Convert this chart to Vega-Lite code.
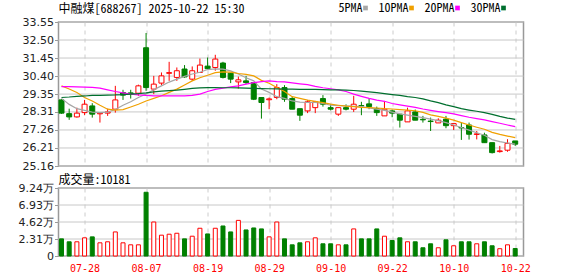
{
"$schema":"https://vega.github.io/schema/vega-lite/v6.json",
"autosize":{"type":"pad"},
"padding":{"left":16.5,"top":2,"right":0,"bottom":0},
"bounds":"flush",
"spacing":22,
"background":"white",
"config":{
 "view":{"stroke":"#999999","strokeWidth":1.5},
 "axis":{"labelFont":"DejaVu Sans","labelFontSize":11,"labelColor":"#222222","gridColor":"#c4c4c4","gridWidth":1,"domain":false,"tickColor":"#999999","tickSize":4,"labelPadding":1,"labelOverlap":false,"title":null}
},
"datasets":{
"pg":[{"t":25.16},{"t":26.21},{"t":27.26},{"t":28.31},{"t":29.35},{"t":30.40},{"t":31.45},{"t":32.50},{"t":33.55}],
"vg":[{"t":0},{"t":23100},{"t":46200},{"t":69300},{"t":92400}],
"k":[
{"d":"07-23","o":29.01,"h":29.05,"l":28.20,"c":28.24,"v":23300,"ma5":29.10,"ma10":29.83,"ma20":29.79,"ma30":29.15,"dir":"down","vdir":"down"},
{"d":"07-24","o":28.21,"h":28.50,"l":27.85,"c":28.02,"v":19300,"ma5":28.75,"ma10":29.65,"ma20":29.78,"ma30":29.18,"dir":"down","vdir":"down"},
{"d":"07-25","o":28.02,"h":28.56,"l":27.98,"c":28.24,"v":19300,"ma5":28.50,"ma10":29.44,"ma20":29.77,"ma30":29.22,"dir":"up","vdir":"up"},
{"d":"07-28","o":28.27,"h":29.01,"l":28.12,"c":28.76,"v":24700,"ma5":28.40,"ma10":29.15,"ma20":29.76,"ma30":29.24,"dir":"up","vdir":"up"},
{"d":"07-29","o":28.66,"h":28.82,"l":27.98,"c":28.18,"v":26000,"ma5":28.30,"ma10":28.95,"ma20":29.74,"ma30":29.27,"dir":"down","vdir":"down"},
{"d":"07-30","o":28.20,"h":28.24,"l":27.69,"c":28.24,"v":17900,"ma5":28.27,"ma10":28.70,"ma20":29.70,"ma30":29.28,"dir":"up","vdir":"up"},
{"d":"07-31","o":28.24,"h":28.50,"l":28.08,"c":28.31,"v":19300,"ma5":28.30,"ma10":28.47,"ma20":29.60,"ma30":29.29,"dir":"up","vdir":"up"},
{"d":"08-01","o":28.47,"h":29.83,"l":28.27,"c":29.01,"v":32700,"ma5":28.45,"ma10":28.42,"ma20":29.50,"ma30":29.30,"dir":"up","vdir":"up"},
{"d":"08-04","o":29.44,"h":29.60,"l":29.01,"c":29.29,"v":17900,"ma5":28.70,"ma10":28.45,"ma20":29.42,"ma30":29.32,"dir":"down","vdir":"up"},
{"d":"08-05","o":29.42,"h":29.60,"l":29.09,"c":29.38,"v":15200,"ma5":28.90,"ma10":28.60,"ma20":29.35,"ma30":29.35,"dir":"down","vdir":"up"},
{"d":"08-06","o":29.40,"h":29.90,"l":29.25,"c":29.83,"v":15200,"ma5":29.15,"ma10":28.76,"ma20":29.30,"ma30":29.38,"dir":"up","vdir":"up"},
{"d":"08-07","o":32.05,"h":32.91,"l":29.54,"c":29.73,"v":86600,"ma5":29.35,"ma10":28.95,"ma20":29.27,"ma30":29.42,"dir":"down","vdir":"down"},
{"d":"08-08","o":29.64,"h":30.41,"l":29.35,"c":29.93,"v":46200,"ma5":29.60,"ma10":29.10,"ma20":29.25,"ma30":29.48,"dir":"up","vdir":"up"},
{"d":"08-11","o":29.99,"h":30.61,"l":29.87,"c":30.41,"v":28300,"ma5":29.83,"ma10":29.25,"ma20":29.25,"ma30":29.52,"dir":"up","vdir":"up"},
{"d":"08-12","o":30.56,"h":31.23,"l":30.12,"c":30.60,"v":29600,"ma5":30.05,"ma10":29.45,"ma20":29.25,"ma30":29.55,"dir":"up","vdir":"up"},
{"d":"08-13","o":30.32,"h":30.90,"l":30.12,"c":30.71,"v":30900,"ma5":30.22,"ma10":29.64,"ma20":29.25,"ma30":29.58,"dir":"up","vdir":"up"},
{"d":"08-14","o":30.81,"h":31.04,"l":30.30,"c":30.35,"v":23300,"ma5":30.38,"ma10":29.88,"ma20":29.25,"ma30":29.63,"dir":"down","vdir":"down"},
{"d":"08-15","o":30.22,"h":30.96,"l":30.12,"c":30.71,"v":26900,"ma5":30.52,"ma10":30.12,"ma20":29.27,"ma30":29.68,"dir":"up","vdir":"up"},
{"d":"08-18","o":30.61,"h":31.42,"l":30.61,"c":31.04,"v":37700,"ma5":30.62,"ma10":30.30,"ma20":29.35,"ma30":29.71,"dir":"up","vdir":"up"},
{"d":"08-19","o":30.98,"h":31.48,"l":30.81,"c":30.83,"v":30000,"ma5":30.78,"ma10":30.45,"ma20":29.50,"ma30":29.73,"dir":"down","vdir":"down"},
{"d":"08-20","o":30.90,"h":31.64,"l":30.71,"c":31.39,"v":37700,"ma5":30.82,"ma10":30.60,"ma20":29.62,"ma30":29.73,"dir":"up","vdir":"up"},
{"d":"08-21","o":31.16,"h":31.23,"l":30.26,"c":30.32,"v":40800,"ma5":30.80,"ma10":30.64,"ma20":29.70,"ma30":29.72,"dir":"down","vdir":"down"},
{"d":"08-22","o":30.57,"h":30.57,"l":29.99,"c":30.22,"v":32700,"ma5":30.70,"ma10":30.63,"ma20":29.77,"ma30":29.72,"dir":"down","vdir":"down"},
{"d":"08-25","o":30.06,"h":30.37,"l":29.67,"c":30.18,"v":48400,"ma5":30.52,"ma10":30.55,"ma20":29.83,"ma30":29.71,"dir":"up","vdir":"up"},
{"d":"08-26","o":30.12,"h":30.41,"l":29.93,"c":30.02,"v":35400,"ma5":30.30,"ma10":30.50,"ma20":29.93,"ma30":29.70,"dir":"down","vdir":"down"},
{"d":"08-27","o":30.02,"h":30.02,"l":29.00,"c":29.05,"v":38100,"ma5":30.12,"ma10":30.41,"ma20":30.02,"ma30":29.68,"dir":"down","vdir":"down"},
{"d":"08-28","o":29.15,"h":29.15,"l":27.92,"c":28.86,"v":36800,"ma5":29.64,"ma10":30.15,"ma20":30.08,"ma30":29.67,"dir":"down","vdir":"down"},
{"d":"08-29","o":29.02,"h":29.15,"l":28.47,"c":29.07,"v":26000,"ma5":29.45,"ma10":29.98,"ma20":30.12,"ma30":29.66,"dir":"up","vdir":"up"},
{"d":"09-01","o":29.15,"h":29.93,"l":29.05,"c":29.73,"v":46200,"ma5":29.20,"ma10":29.73,"ma20":30.08,"ma30":29.65,"dir":"up","vdir":"up"},
{"d":"09-02","o":29.73,"h":29.87,"l":28.90,"c":29.05,"v":23300,"ma5":29.10,"ma10":29.50,"ma20":30.06,"ma30":29.64,"dir":"down","vdir":"down"},
{"d":"09-03","o":29.09,"h":29.20,"l":28.47,"c":28.47,"v":15200,"ma5":28.95,"ma10":29.20,"ma20":30.00,"ma30":29.64,"dir":"down","vdir":"down"},
{"d":"09-04","o":28.50,"h":28.50,"l":27.79,"c":28.12,"v":17900,"ma5":28.88,"ma10":29.10,"ma20":29.95,"ma30":29.63,"dir":"down","vdir":"down"},
{"d":"09-05","o":28.37,"h":29.01,"l":28.24,"c":28.90,"v":19300,"ma5":28.86,"ma10":29.00,"ma20":29.90,"ma30":29.63,"dir":"up","vdir":"up"},
{"d":"09-08","o":28.56,"h":28.95,"l":28.24,"c":28.90,"v":24700,"ma5":28.86,"ma10":28.93,"ma20":29.80,"ma30":29.62,"dir":"up","vdir":"up"},
{"d":"09-09","o":29.09,"h":29.29,"l":28.62,"c":28.76,"v":16600,"ma5":28.80,"ma10":28.85,"ma20":29.72,"ma30":29.61,"dir":"down","vdir":"down"},
{"d":"09-10","o":28.56,"h":28.75,"l":28.40,"c":28.47,"v":16600,"ma5":28.70,"ma10":28.76,"ma20":29.66,"ma30":29.60,"dir":"down","vdir":"down"},
{"d":"09-11","o":28.18,"h":28.56,"l":28.08,"c":28.56,"v":15200,"ma5":28.68,"ma10":28.70,"ma20":29.60,"ma30":29.60,"dir":"up","vdir":"up"},
{"d":"09-12","o":28.56,"h":28.75,"l":28.40,"c":28.47,"v":15200,"ma5":28.66,"ma10":28.65,"ma20":29.50,"ma30":29.58,"dir":"down","vdir":"down"},
{"d":"09-15","o":28.47,"h":29.25,"l":28.31,"c":28.76,"v":36800,"ma5":28.64,"ma10":28.62,"ma20":29.35,"ma30":29.56,"dir":"up","vdir":"up"},
{"d":"09-16","o":28.68,"h":28.90,"l":28.12,"c":28.66,"v":23300,"ma5":28.62,"ma10":28.58,"ma20":29.22,"ma30":29.52,"dir":"down","vdir":"down"},
{"d":"09-17","o":28.78,"h":29.09,"l":28.47,"c":28.62,"v":23300,"ma5":28.55,"ma10":28.56,"ma20":29.10,"ma30":29.48,"dir":"down","vdir":"down"},
{"d":"09-18","o":28.50,"h":28.62,"l":28.08,"c":28.27,"v":36800,"ma5":28.47,"ma10":28.54,"ma20":29.00,"ma30":29.44,"dir":"down","vdir":"down"},
{"d":"09-19","o":28.08,"h":28.95,"l":28.08,"c":28.47,"v":26900,"ma5":28.40,"ma10":28.50,"ma20":28.93,"ma30":29.38,"dir":"up","vdir":"up"},
{"d":"09-22","o":28.37,"h":28.45,"l":28.00,"c":28.24,"v":21100,"ma5":28.30,"ma10":28.48,"ma20":28.80,"ma30":29.32,"dir":"down","vdir":"down"},
{"d":"09-23","o":28.18,"h":28.18,"l":27.40,"c":27.83,"v":24700,"ma5":28.20,"ma10":28.45,"ma20":28.72,"ma30":29.27,"dir":"down","vdir":"down"},
{"d":"09-24","o":27.73,"h":28.56,"l":27.73,"c":28.37,"v":19300,"ma5":28.12,"ma10":28.42,"ma20":28.65,"ma30":29.20,"dir":"up","vdir":"up"},
{"d":"09-25","o":28.31,"h":28.45,"l":27.83,"c":27.83,"v":19300,"ma5":28.05,"ma10":28.38,"ma20":28.58,"ma30":29.15,"dir":"down","vdir":"down"},
{"d":"09-26","o":27.88,"h":28.08,"l":27.69,"c":27.85,"v":11200,"ma5":27.98,"ma10":28.28,"ma20":28.48,"ma30":29.07,"dir":"down","vdir":"down"},
{"d":"09-29","o":27.78,"h":27.98,"l":27.20,"c":27.75,"v":16600,"ma5":27.89,"ma10":28.14,"ma20":28.40,"ma30":28.95,"dir":"down","vdir":"down"},
{"d":"09-30","o":27.67,"h":27.94,"l":27.67,"c":27.83,"v":11200,"ma5":27.80,"ma10":28.05,"ma20":28.33,"ma30":28.85,"dir":"up","vdir":"up"},
{"d":"10-09","o":27.89,"h":28.08,"l":27.36,"c":27.51,"v":22000,"ma5":27.69,"ma10":27.95,"ma20":28.27,"ma30":28.72,"dir":"down","vdir":"down"},
{"d":"10-10","o":27.51,"h":27.63,"l":27.26,"c":27.63,"v":13900,"ma5":27.55,"ma10":27.83,"ma20":28.20,"ma30":28.62,"dir":"up","vdir":"up"},
{"d":"10-13","o":27.40,"h":27.70,"l":26.68,"c":27.38,"v":19300,"ma5":27.40,"ma10":27.69,"ma20":28.10,"ma30":28.50,"dir":"down","vdir":"down"},
{"d":"10-14","o":27.55,"h":27.69,"l":26.70,"c":27.01,"v":19300,"ma5":27.25,"ma10":27.55,"ma20":28.00,"ma30":28.42,"dir":"down","vdir":"down"},
{"d":"10-15","o":27.00,"h":27.20,"l":26.71,"c":27.03,"v":16600,"ma5":27.10,"ma10":27.42,"ma20":27.92,"ma30":28.35,"dir":"up","vdir":"up"},
{"d":"10-16","o":26.97,"h":27.10,"l":26.52,"c":26.52,"v":19300,"ma5":26.95,"ma10":27.30,"ma20":27.85,"ma30":28.27,"dir":"down","vdir":"down"},
{"d":"10-17","o":26.52,"h":26.52,"l":25.89,"c":25.94,"v":13900,"ma5":26.70,"ma10":27.12,"ma20":27.75,"ma30":28.17,"dir":"down","vdir":"down"},
{"d":"10-20","o":26.00,"h":26.33,"l":25.94,"c":26.04,"v":9900,"ma5":26.58,"ma10":27.00,"ma20":27.65,"ma30":28.05,"dir":"up","vdir":"up"},
{"d":"10-21","o":26.08,"h":26.72,"l":25.99,"c":26.48,"v":15200,"ma5":26.50,"ma10":26.90,"ma20":27.55,"ma30":27.95,"dir":"up","vdir":"up"},
{"d":"10-22","o":26.62,"h":26.62,"l":26.33,"c":26.43,"v":10181,"ma5":26.43,"ma10":26.81,"ma20":27.45,"ma30":27.88,"dir":"down","vdir":"down"}
]},
"vconcat":[
{
 "width":465,"height":144,
 "title":{"text":"中融煤[688267] 2025-10-22 15:30","anchor":"start","frame":"group","baseline":"alphabetic","offset":9,"dy":18,"font":"Noto Sans Mono CJK SC, Noto Sans CJK SC, sans-serif","fontSize":12,"fontWeight":"normal","color":"#000000"},
 "layer":[
  {"data":{"name":"pg"},
   "mark":{"type":"rule","strokeWidth":1,"color":"#c8c8c8"},
   "encoding":{
    "y":{"field":"t","type":"quantitative","scale":{"domain":[25.16,33.55],"nice":false,"zero":false},
         "axis":{"values":[25.16,26.21,27.26,28.31,29.35,30.40,31.45,32.50,33.55],"labelExpr":"format(datum.value, '.2f')","labelOverlap":false,"grid":false,"tickCount":9}}
   }},
  {"data":{"name":"k"},
   "mark":{"type":"rule","strokeWidth":1},
   "encoding":{
    "x":{"field":"d","type":"ordinal","sort":null,"scale":{"type":"point","padding":0.735,"align":0.265},
         "axis":{"values":["07-28","08-07","08-19","08-29","09-10","09-22","10-10","10-22"],"labels":false,"ticks":false,"grid":true,"gridDash":[4,4],"gridColor":"#cccccc"}},
    "y":{"field":"l","type":"quantitative"},
    "y2":{"field":"h"},
    "stroke":{"field":"dir","type":"nominal","scale":{"domain":["up","down"],"range":["#ff0000","#008000"]},"legend":null}
   }},
  {"data":{"name":"k"},
   "mark":{"type":"bar","size":5,"strokeWidth":1},
   "encoding":{
    "x":{"field":"d","type":"ordinal","sort":null},
    "y":{"field":"o","type":"quantitative"},
    "y2":{"field":"c"},
    "stroke":{"field":"dir","type":"nominal","legend":null},
    "fill":{"field":"dir","type":"nominal","scale":{"domain":["up","down"],"range":["#ffffff","#008000"]},"legend":null}
   }},
  {"data":{"name":"k"},
   "transform":[{"fold":["ma5","ma10","ma20","ma30"],"as":["key","val"]}],
   "mark":{"type":"line","strokeWidth":1.2},
   "encoding":{
    "x":{"field":"d","type":"ordinal","sort":null},
    "y":{"field":"val","type":"quantitative"},
    "color":{"field":"key","type":"nominal",
      "scale":{"domain":["ma5","ma10","ma20","ma30"],"range":["#a6a6a6","#f0a000","#ff00ff","#006f2e"]},
      "legend":{"orient":"none","legendX":301,"legendY":-20,"direction":"horizontal","title":null,
        "symbolType":"square","symbolSize":22,"symbolStrokeWidth":0,
        "labelFont":"Noto Sans Mono CJK SC, Noto Sans CJK SC, sans-serif","labelFontSize":12,"labelColor":"#000000",
        "labelAlign":"right","labelOffset":-9,"columnPadding":9,
        "labelExpr":"{'ma5':'5PMA','ma10':'10PMA','ma20':'20PMA','ma30':'30PMA'}[datum.label]",
        "encode":{"symbols":{"update":{"fill":{"scale":"color","field":"value"},"strokeWidth":{"value":0}}}}}}
   }}
 ]
},
{
 "width":465,"height":68,
 "title":{"text":"成交量:10181","anchor":"start","frame":"group","baseline":"alphabetic","offset":6,"dy":20,"font":"Noto Sans Mono CJK SC, Noto Sans CJK SC, sans-serif","fontSize":12,"fontWeight":"normal","color":"#000000"},
 "layer":[
  {"data":{"name":"vg"},
   "mark":{"type":"rule","strokeWidth":1,"color":"#c8c8c8"},
   "encoding":{
    "y":{"field":"t","type":"quantitative","scale":{"domain":[0,92400],"nice":false},
         "axis":{"values":[0,23100,46200,69300,92400],"tickCount":5,"labelOverlap":false,"grid":false,"labelExpr":"datum.value == 0 ? '0' : format(datum.value / 10000, '.2f') + '万'"}}
   }},
  {"data":{"name":"k"},
   "mark":{"type":"bar","size":4,"strokeWidth":1},
   "encoding":{
    "x":{"field":"d","type":"ordinal","sort":null,"scale":{"type":"point","padding":0.735,"align":0.265},
         "axis":{"values":["07-28","08-07","08-19","08-29","09-10","09-22","10-10","10-22"],"labelAngle":0,"ticks":false,"grid":true,"gridDash":[4,4],"gridColor":"#cccccc","labelColor":"#ff0000","labelFont":"DejaVu Sans Mono","labelFontSize":10,"labelPadding":7}},
    "y":{"field":"v","type":"quantitative"},
    "stroke":{"field":"vdir","type":"nominal","legend":null},
    "fill":{"field":"vdir","type":"nominal","legend":null}
   }}
 ]
}
]
}
